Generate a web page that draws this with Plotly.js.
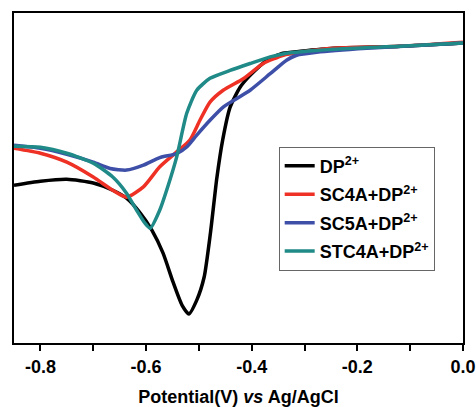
<!DOCTYPE html>
<html>
<head>
<meta charset="utf-8">
<script src="https://cdn.plot.ly/plotly-3.0.1.min.js"></script>
<style>html,body{margin:0;padding:0;background:#fff}#chart{width:476px;height:407px}</style>
</head>
<body>
<div id="chart"></div>
<script>
// Potential (V vs Ag/AgCl) and current (arbitrary units)
var dpX = [-0.85,-0.80,-0.75,-0.70,-0.663,-0.637,-0.611,-0.589,-0.568,-0.549,-0.532,-0.519,-0.504,-0.490,-0.478,-0.466,-0.455,-0.441,-0.422,-0.403,-0.371,-0.341,-0.308,-0.246,-0.119,0.0];
var dpY = [47.8,49.0,49.6,48.5,46.3,43.9,39.4,34.2,27.3,18.5,11.5,8.8,13.0,20.0,33.5,50.0,61.5,71.4,77.5,81.1,85.7,87.8,88.4,89.3,89.9,90.9];

var sc4aX = [-0.85,-0.80,-0.75,-0.70,-0.663,-0.637,-0.605,-0.574,-0.542,-0.517,-0.498,-0.479,-0.454,-0.416,-0.378,-0.340,-0.308,-0.246,-0.119,0.0];
var sc4aY = [59.0,57.5,54.8,50.3,46.3,44.2,47.3,53.4,57.9,61.5,67.5,73.0,76.6,80.1,84.7,87.2,88.1,89.3,89.9,91.1];

var sc5aX = [-0.85,-0.80,-0.75,-0.70,-0.668,-0.637,-0.605,-0.574,-0.542,-0.523,-0.504,-0.479,-0.454,-0.428,-0.403,-0.365,-0.334,-0.315,-0.277,-0.182,0.0];
var sc5aY = [59.9,59.0,57.2,54.8,52.9,52.4,53.9,56.2,57.4,59.4,63.0,67.5,71.5,74.1,76.6,81.6,85.7,87.2,88.1,89.3,90.9];

var stc4aX = [-0.85,-0.80,-0.75,-0.70,-0.663,-0.637,-0.618,-0.602,-0.592,-0.574,-0.558,-0.542,-0.523,-0.504,-0.479,-0.441,-0.403,-0.365,-0.341,-0.246,-0.119,0.0];
var stc4aY = [59.6,59.3,57.5,54.5,50.3,45.4,40.3,36.3,34.8,40.3,47.8,56.4,69.6,76.6,80.2,82.6,84.7,86.7,87.6,89.0,89.9,90.9];

var seriesNames = ['DP<sup>2+</sup>','SC4A+DP<sup>2+</sup>','SC5A+DP<sup>2+</sup>','STC4A+DP<sup>2+</sup>'];
var seriesColors = ['#000000','#ee3124','#3e4fa8','#1f8a87'];

var tickVals = [-0.8,-0.7,-0.6,-0.5,-0.4,-0.3,-0.2,-0.1,0.0];
var tickText = ['-0.8','','-0.6','','-0.4','','-0.2','','0.0'];

var xs = [dpX, sc4aX, sc5aX, stc4aX];
var ys = [dpY, sc4aY, sc5aY, stc4aY];
var traces = xs.map(function(x, i){
  return {x: x, y: ys[i], type: 'scatter', mode: 'lines', name: seriesNames[i],
    legendgroup: 'g' + i,
    line: {color: seriesColors[i], width: 3.5, shape: 'spline', smoothing: 0.6}};
});

var font = 'Arial, "Liberation Sans", sans-serif';
var layout = {
  width: 476, height: 407,
  margin: {l: 14, r: 13, t: 13, b: 64},
  paper_bgcolor: '#fff', plot_bgcolor: '#fff',
  showlegend: true,
  font: {family: font, color: '#000'},
  xaxis: {
    range: [-0.85, 0.0], tickvals: tickVals, ticktext: tickText,
    ticks: 'outside', ticklen: 6, tickwidth: 2, tickcolor: '#000',
    showline: true, linewidth: 2, linecolor: '#000', mirror: true,
    showgrid: false, zeroline: false,
    tickfont: {family: font, size: 18, weight: 'bold', color: '#000'},
    title: {text: '<b>Potential(V) <i>vs</i> Ag/AgCl</b>', font: {family: font, size: 18, color: '#000'}, standoff: 30}
  },
  yaxis: {
    range: [0, 100], showticklabels: false, ticks: '',
    showline: true, linewidth: 2, linecolor: '#000', mirror: true,
    showgrid: false, zeroline: false
  },
  legend: {
    x: 0.5895, y: 0.595, xanchor: 'left', yanchor: 'top',
    bordercolor: '#666', borderwidth: 1, bgcolor: '#fff',
    tracegroupgap: 2, itemwidth: 30,
    font: {family: font, size: 18, weight: 'bold', color: '#000'}
  }
};

Plotly.newPlot('chart', traces, layout, {displayModeBar: false, staticPlot: true});
</script>
</body>
</html>
